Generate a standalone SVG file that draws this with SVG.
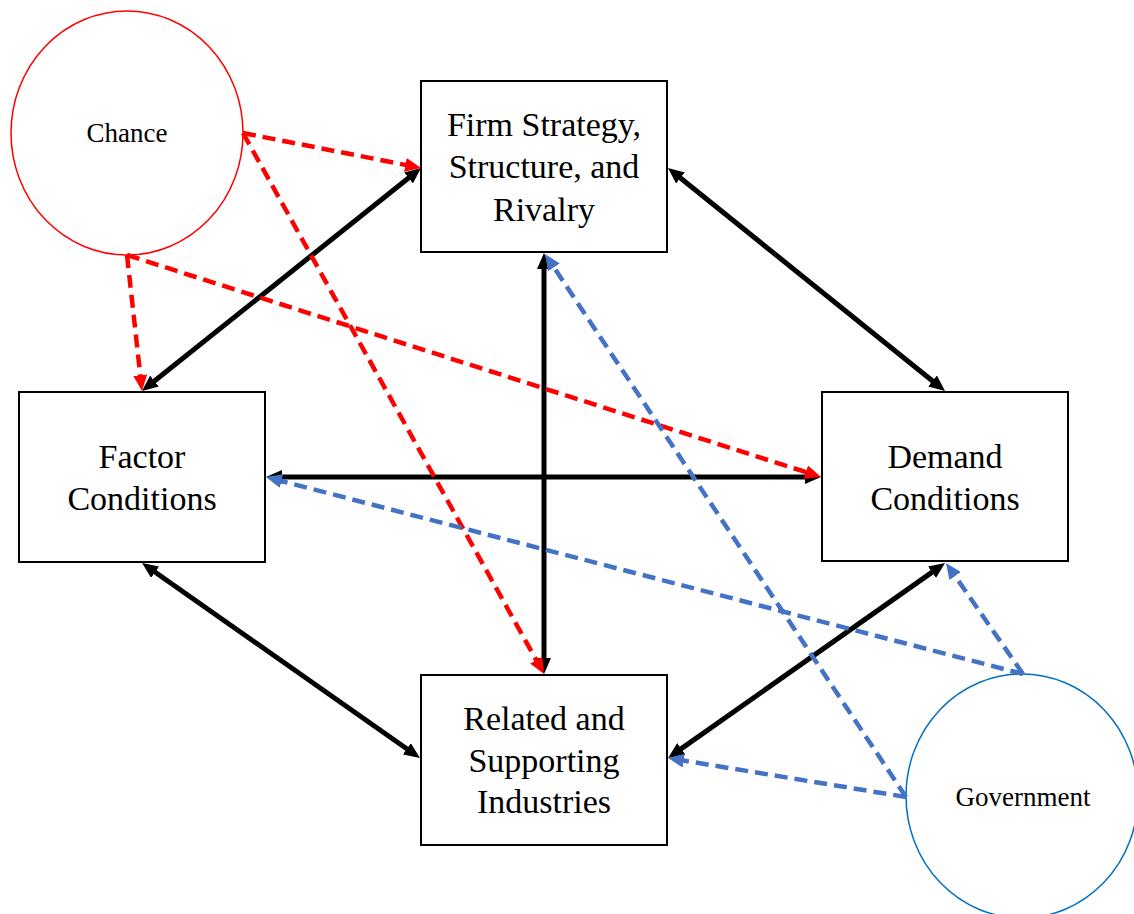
<svg xmlns="http://www.w3.org/2000/svg" width="1134" height="914" viewBox="0 0 1134 914">
<style>
.box{fill:#fff;stroke:#000;stroke-width:2}
.lbl{font-family:"Liberation Serif","Times New Roman",serif;font-size:34px;fill:#000;text-anchor:middle}
.clbl{font-family:"Liberation Serif","Times New Roman",serif;font-size:27px;fill:#000;text-anchor:middle}
.blk{stroke:#000;stroke-width:5;fill:none;marker-start:url(#hb);marker-end:url(#hb)}
.red{stroke:#FF0000;stroke-width:4.5;stroke-dasharray:13 7;fill:none;marker-end:url(#hr)}
.blu{stroke:#4472C4;stroke-width:4.5;stroke-dasharray:13 7;fill:none;marker-end:url(#hu)}
</style>
<defs>
<marker id="hb" viewBox="0 0 16 14" markerWidth="16" markerHeight="14" markerUnits="userSpaceOnUse" refX="2" refY="7" orient="auto-start-reverse"><path d="M0,0 L16,7 L0,14 z" fill="#000"/></marker>
<marker id="hr" viewBox="0 0 16 14" markerWidth="16" markerHeight="14" markerUnits="userSpaceOnUse" refX="2" refY="7" orient="auto"><path d="M0,0 L16,7 L0,14 z" fill="#FF0000"/></marker>
<marker id="hu" viewBox="0 0 16 14" markerWidth="16" markerHeight="14" markerUnits="userSpaceOnUse" refX="2" refY="7" orient="auto"><path d="M0,0 L16,7 L0,14 z" fill="#4472C4"/></marker>
</defs>
<rect width="1134" height="914" fill="#fff"/>
<g id="chance">
<ellipse cx="127" cy="133" rx="116" ry="122" fill="#fff" stroke="#FF0000" stroke-width="1.5"/>
<text class="clbl" x="127" y="142">Chance</text>
</g>
<g id="government">
<ellipse cx="1022" cy="796" rx="116" ry="122" fill="#fff" stroke="#0070C0" stroke-width="1.5"/>
<text class="clbl" x="1023" y="806">Government</text>
</g>
<g id="firm">
<rect class="box" x="421" y="81" width="246" height="171"/>
<text class="lbl" x="544" y="136">Firm Strategy,</text>
<text class="lbl" x="544" y="178">Structure, and</text>
<text class="lbl" x="544" y="221">Rivalry</text>
</g>
<g id="factor">
<rect class="box" x="19" y="392" width="246" height="170"/>
<text class="lbl" x="142" y="468">Factor</text>
<text class="lbl" x="142" y="510">Conditions</text>
</g>
<g id="demand">
<rect class="box" x="822" y="392" width="246" height="169"/>
<text class="lbl" x="945" y="468">Demand</text>
<text class="lbl" x="945" y="510">Conditions</text>
</g>
<g id="related">
<rect class="box" x="421" y="675" width="246" height="170"/>
<text class="lbl" x="544" y="730">Related and</text>
<text class="lbl" x="544" y="772">Supporting</text>
<text class="lbl" x="544" y="813">Industries</text>
</g>
<g id="connectors">
<line class="blk" x1="152.9" y1="382.3" x2="410.1" y2="176.7"/>
<line class="blk" x1="678.9" y1="176.8" x2="934.1" y2="382.2"/>
<line class="blk" x1="544" y1="267" x2="544" y2="660"/>
<line class="blk" x1="280" y1="477" x2="807" y2="477"/>
<line class="blk" x1="153.5" y1="571" x2="408.5" y2="750"/>
<line class="blk" x1="933.6" y1="571.1" x2="679.6" y2="749.9"/>
<line class="red" x1="243" y1="133" x2="407.3" y2="165.3"/>
<line class="red" x1="243" y1="133" x2="537.2" y2="661.8"/>
<line class="red" x1="127" y1="255" x2="140.5" y2="377.1"/>
<line class="red" x1="127" y1="255" x2="807.7" y2="472.7"/>
<line class="blu" x1="1023" y1="674" x2="954" y2="574.5"/>
<line class="blu" x1="1023" y1="674" x2="279.5" y2="480.5"/>
<line class="blu" x1="906" y1="797" x2="681.8" y2="760.3"/>
<line class="blu" x1="906" y1="797" x2="552.8" y2="265.7"/>
</g>
</svg>
